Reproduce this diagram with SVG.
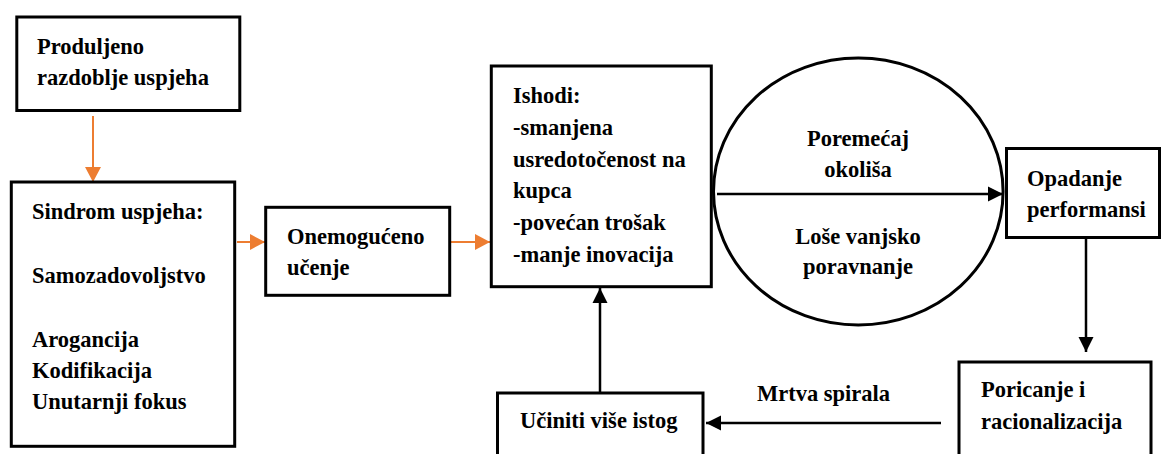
<svg xmlns="http://www.w3.org/2000/svg" width="1164" height="454" viewBox="0 0 1164 454">
<defs>
<style>
.box{fill:#fff;stroke:#000;stroke-width:3}
.t{font-family:'Liberation Serif','DejaVu Serif',serif;font-weight:700;font-size:22.5px;fill:#000}
.c{text-anchor:middle}
.lo{stroke:#ED7D31;stroke-width:2;fill:none}
.lb{stroke:#000;stroke-width:2.5;fill:none}
</style>
<marker id="ao" markerUnits="userSpaceOnUse" markerWidth="16" markerHeight="16" refX="15" refY="8" orient="auto">
<path d="M0,0 L15,8 L0,16 z" fill="#ED7D31"/>
</marker>
<marker id="ab" markerUnits="userSpaceOnUse" markerWidth="16" markerHeight="16" refX="15" refY="8" orient="auto">
<path d="M0,0.5 L15,8 L0,15.5 z" fill="#000"/>
</marker>
</defs>
<rect width="1164" height="454" fill="#fff"/>
<g id="connectors">
<line class="lo" x1="93" y1="116" x2="93" y2="182" marker-end="url(#ao)"/>
<line class="lo" x1="237" y1="242" x2="265" y2="242" marker-end="url(#ao)"/>
<line class="lo" x1="448" y1="242" x2="490" y2="242" marker-end="url(#ao)"/>
<line class="lb" x1="1086" y1="238" x2="1086" y2="352" marker-end="url(#ab)"/>
<line class="lb" x1="941" y1="423" x2="706" y2="423" marker-end="url(#ab)"/>
<line class="lb" x1="600" y1="393" x2="600" y2="288" marker-end="url(#ab)"/>
</g>
<g id="n-produljeno">
<rect class="box" x="16.8" y="17" width="223" height="93.5"/>
<text class="t" x="37" y="54">Produljeno</text>
<text class="t" x="37" y="85">razdoblje uspjeha</text>
</g>
<g id="n-sindrom">
<rect class="box" x="11.3" y="182" width="223.4" height="264.3"/>
<text class="t" x="32" y="219">Sindrom uspjeha:</text>
<text class="t" x="32" y="283">Samozadovoljstvo</text>
<text class="t" x="32" y="347">Arogancija</text>
<text class="t" x="32" y="378">Kodifikacija</text>
<text class="t" x="32" y="409">Unutarnji fokus</text>
</g>
<g id="n-onemoguceno">
<rect class="box" x="265.7" y="207.3" width="184" height="88"/>
<text class="t" x="287" y="244">Onemogućeno</text>
<text class="t" x="287" y="275">učenje</text>
</g>
<g id="n-ishodi">
<rect class="box" x="491.3" y="66" width="220" height="220.7"/>
<text class="t" x="513" y="103">Ishodi:</text>
<text class="t" x="513" y="135">-smanjena</text>
<text class="t" x="513" y="166.5">usredotočenost na</text>
<text class="t" x="513" y="198">kupca</text>
<text class="t" x="513" y="230">-povećan trošak</text>
<text class="t" x="513" y="262">-manje inovacija</text>
</g>
<g id="n-okolis">
<ellipse cx="858.3" cy="191.5" rx="144.8" ry="133.5" fill="#fff" stroke="#000" stroke-width="3"/>
<line class="lb" x1="717" y1="194" x2="1003" y2="194" marker-end="url(#ab)"/>
<text class="t c" x="858" y="146">Poremećaj</text>
<text class="t c" x="858" y="177">okoliša</text>
<text class="t c" x="858" y="244">Loše vanjsko</text>
<text class="t c" x="858" y="274">poravnanje</text>
</g>
<g id="n-opadanje">
<rect class="box" x="1006.5" y="148.5" width="153" height="89"/>
<text class="t" x="1027" y="186">Opadanje</text>
<text class="t" x="1027" y="217">performansi</text>
</g>
<g id="n-poricanje">
<rect class="box" x="959" y="362" width="192" height="110"/>
<text class="t" x="981" y="397">Poricanje i</text>
<text class="t" x="981" y="429">racionalizacija</text>
</g>
<g id="n-uciniti">
<rect class="box" x="497.5" y="393" width="205.5" height="80"/>
<text class="t" x="520" y="428">Učiniti više istog</text>
</g>
<g id="l-mrtva">
<text class="t" x="757" y="401">Mrtva spirala</text>
</g>
</svg>
